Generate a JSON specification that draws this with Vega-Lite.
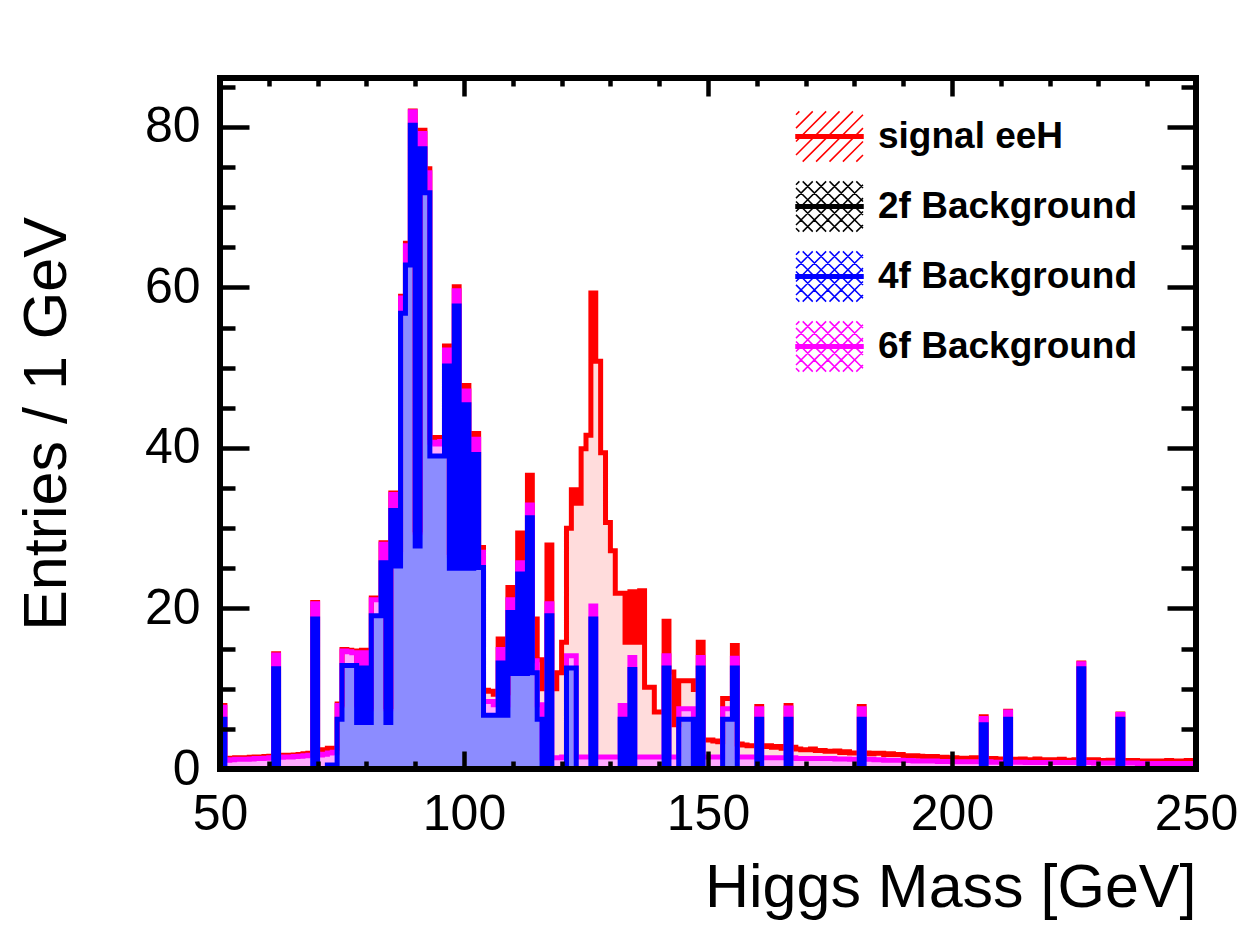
{
"$schema": "https://vega.github.io/schema/vega-lite/v6.json",
"width": 976, "height": 691,
"autosize": {"type": "none"},
"padding": {"left": 220, "top": 78, "right": 51, "bottom": 165},
"background": "white",
"config": {"view": {"stroke": null}, "axis": {"labelFont": "Liberation Sans", "titleFont": "Liberation Sans", "labelColor": "black", "titleColor": "black", "tickColor": "black", "titleFontWeight": "normal", "grid": false, "domain": false}},
"layer": [
{
"data": {"values": [
{"m":50.5,"f4":6.2,"f6":1.5,"sig":0.2},{"m":51.5,"f4":0,"f6":1.1,"sig":0.2},{"m":52.5,"f4":0,"f6":1.15,"sig":0.2},{"m":53.5,"f4":0,"f6":1.2,"sig":0.2},{"m":54.5,"f4":0,"f6":1.2,"sig":0.2},
{"m":55.5,"f4":0,"f6":1.2,"sig":0.2},{"m":56.5,"f4":0,"f6":1.25,"sig":0.2},{"m":57.5,"f4":0,"f6":1.3,"sig":0.2},{"m":58.5,"f4":0,"f6":1.3,"sig":0.2},{"m":59.5,"f4":0,"f6":1.35,"sig":0.2},
{"m":60.5,"f4":0,"f6":1.4,"sig":0.2},{"m":61.5,"f4":12.5,"f6":1.7,"sig":0.15},{"m":62.5,"f4":0,"f6":1.45,"sig":0.2},{"m":63.5,"f4":0,"f6":1.5,"sig":0.2},{"m":64.5,"f4":0,"f6":1.5,"sig":0.2},
{"m":65.5,"f4":0,"f6":1.55,"sig":0.2},{"m":66.5,"f4":0,"f6":1.6,"sig":0.2},{"m":67.5,"f4":0,"f6":1.65,"sig":0.25},{"m":68.5,"f4":0,"f6":1.7,"sig":0.25},{"m":69.5,"f4":18.7,"f6":1.9,"sig":0.15},
{"m":70.5,"f4":0,"f6":1.75,"sig":0.35},{"m":71.5,"f4":0,"f6":1.85,"sig":0.55},{"m":72.5,"f4":0.5,"f6":1.5,"sig":0.6},{"m":73.5,"f4":0.5,"f6":1.6,"sig":0.5},{"m":74.5,"f4":6.2,"f6":1.7,"sig":0.2},
{"m":75.5,"f4":12.9,"f6":1.8,"sig":0.2},{"m":76.5,"f4":12.9,"f6":1.7,"sig":0.2},{"m":77.5,"f4":12.9,"f6":1.6,"sig":0.2},{"m":78.5,"f4":5.8,"f6":2.2,"sig":0.2},{"m":79.5,"f4":12.6,"f6":1.9,"sig":0.3},
{"m":80.5,"f4":5.8,"f6":1.7,"sig":0.3},{"m":81.5,"f4":19.1,"f6":2.0,"sig":0.2},{"m":82.5,"f4":19.1,"f6":2.0,"sig":0.2},{"m":83.5,"f4":25.7,"f6":2.3,"sig":0.2},{"m":84.5,"f4":5.8,"f6":1.7,"sig":0.3},
{"m":85.5,"f4":32.2,"f6":2.0,"sig":0.2},{"m":86.5,"f4":25.3,"f6":1.7,"sig":0.3},{"m":87.5,"f4":56.8,"f6":1.9,"sig":0.2},{"m":88.5,"f4":62.8,"f6":2.4,"sig":0.3},{"m":89.5,"f4":80.2,"f6":1.7,"sig":0.1},
{"m":90.5,"f4":27.8,"f6":1.7,"sig":0.3},{"m":91.5,"f4":77.3,"f6":1.9,"sig":0.4},{"m":92.5,"f4":71.8,"f6":2.5,"sig":0.5},{"m":93.5,"f4":39.0,"f6":1.7,"sig":0.6},{"m":94.5,"f4":39.0,"f6":1.5,"sig":0.8},
{"m":95.5,"f4":39.0,"f6":1.8,"sig":0.5},{"m":96.5,"f4":50.2,"f6":2.0,"sig":0.5},{"m":97.5,"f4":25.0,"f6":1.6,"sig":0.4},{"m":98.5,"f4":57.7,"f6":1.9,"sig":0.5},{"m":99.5,"f4":25.0,"f6":1.6,"sig":0.4},
{"m":100.5,"f4":45.4,"f6":1.7,"sig":0.7},{"m":101.5,"f4":25.0,"f6":1.6,"sig":0.4},{"m":102.5,"f4":39.2,"f6":1.9,"sig":0.7},{"m":103.5,"f4":25.1,"f6":1.9,"sig":0.6},{"m":104.5,"f4":6.7,"f6":1.7,"sig":1.4},
{"m":105.5,"f4":6.7,"f6":1.7,"sig":1.3},{"m":106.5,"f4":6.7,"f6":1.3,"sig":1.3},{"m":107.5,"f4":13.2,"f6":1.7,"sig":1.3},{"m":108.5,"f4":6.7,"f6":1.3,"sig":1.5},{"m":109.5,"f4":19.5,"f6":1.6,"sig":1.5},
{"m":110.5,"f4":11.9,"f6":1.3,"sig":2.0},{"m":111.5,"f4":24.3,"f6":1.4,"sig":3.7},{"m":112.5,"f4":11.9,"f6":1.3,"sig":3.5},{"m":113.5,"f4":31.3,"f6":1.6,"sig":3.7},{"m":114.5,"f4":12.0,"f6":1.5,"sig":5.2},
{"m":115.5,"f4":6.2,"f6":1.8,"sig":5.6},{"m":116.5,"f4":0,"f6":1.4,"sig":8.6},{"m":117.5,"f4":19.1,"f6":1.5,"sig":7.3},{"m":118.5,"f4":0,"f6":1.4,"sig":8.6},{"m":119.5,"f4":0,"f6":1.4,"sig":10.6},
{"m":120.5,"f4":0,"f6":1.5,"sig":14.3},{"m":121.5,"f4":12.6,"f6":1.5,"sig":15.9},{"m":122.5,"f4":12.6,"f6":1.5,"sig":20.7},{"m":123.5,"f4":0,"f6":1.5,"sig":31.6},{"m":124.5,"f4":0,"f6":1.5,"sig":38.4},
{"m":125.5,"f4":0,"f6":1.5,"sig":40.1},{"m":126.5,"f4":18.7,"f6":1.6,"sig":39.0},{"m":127.5,"f4":0,"f6":1.5,"sig":49.3},{"m":128.5,"f4":0,"f6":1.5,"sig":37.9},{"m":129.5,"f4":0,"f6":1.5,"sig":29.2},
{"m":130.5,"f4":0,"f6":1.5,"sig":25.7},{"m":131.5,"f4":0,"f6":1.5,"sig":20.4},{"m":132.5,"f4":6.2,"f6":1.7,"sig":14.0},{"m":133.5,"f4":0,"f6":1.5,"sig":14.3},{"m":134.5,"f4":12.4,"f6":1.5,"sig":8.2},
{"m":135.5,"f4":0,"f6":1.5,"sig":14.3},{"m":136.5,"f4":0,"f6":1.5,"sig":20.7},{"m":137.5,"f4":0,"f6":1.5,"sig":8.7},{"m":138.5,"f4":0,"f6":1.5,"sig":8.7},{"m":139.5,"f4":0,"f6":1.5,"sig":5.6},
{"m":140.5,"f4":0,"f6":1.5,"sig":5.6},{"m":141.5,"f4":12.6,"f6":1.5,"sig":4.3},{"m":142.5,"f4":0,"f6":1.5,"sig":10.6},{"m":143.5,"f4":0,"f6":1.5,"sig":4.0},{"m":144.5,"f4":6.2,"f6":1.3,"sig":3.5},
{"m":145.5,"f4":6.2,"f6":1.3,"sig":3.5},{"m":146.5,"f4":6.2,"f6":1.3,"sig":3.5},{"m":147.5,"f4":0,"f6":1.5,"sig":8.4},{"m":148.5,"f4":12.6,"f6":1.3,"sig":1.9},{"m":149.5,"f4":0,"f6":1.5,"sig":2.1},
{"m":150.5,"f4":0,"f6":1.5,"sig":2.1},{"m":151.5,"f4":0,"f6":1.5,"sig":2.0},{"m":152.5,"f4":0,"f6":1.5,"sig":1.9},{"m":153.5,"f4":6.2,"f6":1.3,"sig":1.3},{"m":154.5,"f4":6.2,"f6":1.3,"sig":1.3},
{"m":155.5,"f4":12.6,"f6":1.2,"sig":1.6},{"m":156.5,"f4":0,"f6":1.5,"sig":1.6},{"m":157.5,"f4":0,"f6":1.5,"sig":1.5},{"m":158.5,"f4":0,"f6":1.5,"sig":1.4},{"m":159.5,"f4":0,"f6":1.5,"sig":1.4},
{"m":160.5,"f4":6.2,"f6":1.3,"sig":0.3},{"m":161.5,"f4":0,"f6":1.4,"sig":1.4},{"m":162.5,"f4":0,"f6":1.4,"sig":1.5},{"m":163.5,"f4":0,"f6":1.4,"sig":1.3},{"m":164.5,"f4":0,"f6":1.4,"sig":1.4},
{"m":165.5,"f4":0,"f6":1.4,"sig":1.2},{"m":166.5,"f4":6.2,"f6":1.4,"sig":0.3},{"m":167.5,"f4":0,"f6":1.4,"sig":1.3},{"m":168.5,"f4":0,"f6":1.3,"sig":1.2},{"m":169.5,"f4":0,"f6":1.3,"sig":1.1},
{"m":170.5,"f4":0,"f6":1.3,"sig":1.1},{"m":171.5,"f4":0,"f6":1.3,"sig":1.2},{"m":172.5,"f4":0,"f6":1.3,"sig":1.0},{"m":173.5,"f4":0,"f6":1.3,"sig":1.0},{"m":174.5,"f4":0,"f6":1.3,"sig":0.9},
{"m":175.5,"f4":0,"f6":1.3,"sig":0.9},{"m":176.5,"f4":0,"f6":1.25,"sig":1.0},{"m":177.5,"f4":0,"f6":1.25,"sig":0.8},{"m":178.5,"f4":0,"f6":1.25,"sig":0.9},{"m":179.5,"f4":0,"f6":1.2,"sig":0.8},
{"m":180.5,"f4":0,"f6":1.2,"sig":0.8},{"m":181.5,"f4":6.2,"f6":1.3,"sig":0.3},{"m":182.5,"f4":0,"f6":1.2,"sig":0.8},{"m":183.5,"f4":0,"f6":1.2,"sig":0.7},{"m":184.5,"f4":0,"f6":1.15,"sig":0.8},
{"m":185.5,"f4":0,"f6":1.15,"sig":0.8},{"m":186.5,"f4":0,"f6":1.1,"sig":0.7},{"m":187.5,"f4":0,"f6":1.1,"sig":0.8},{"m":188.5,"f4":0,"f6":1.1,"sig":0.7},{"m":189.5,"f4":0,"f6":1.1,"sig":0.7},
{"m":190.5,"f4":0,"f6":1.05,"sig":0.6},{"m":191.5,"f4":0,"f6":1.05,"sig":0.6},{"m":192.5,"f4":0,"f6":1.0,"sig":0.65},{"m":193.5,"f4":0,"f6":1.0,"sig":0.6},{"m":194.5,"f4":0,"f6":1.0,"sig":0.55},
{"m":195.5,"f4":0,"f6":1.0,"sig":0.5},{"m":196.5,"f4":0,"f6":1.0,"sig":0.55},{"m":197.5,"f4":0,"f6":0.95,"sig":0.5},{"m":198.5,"f4":0,"f6":0.95,"sig":0.5},{"m":199.5,"f4":0,"f6":0.95,"sig":0.45},
{"m":200.5,"f4":0,"f6":0.9,"sig":0.5},{"m":201.5,"f4":0,"f6":0.9,"sig":0.45},{"m":202.5,"f4":0,"f6":0.9,"sig":0.4},{"m":203.5,"f4":0,"f6":0.9,"sig":0.45},{"m":204.5,"f4":0,"f6":0.9,"sig":0.5},
{"m":205.5,"f4":0,"f6":0.9,"sig":0.4},{"m":206.5,"f4":5.5,"f6":0.8,"sig":0.2},{"m":207.5,"f4":0,"f6":0.9,"sig":0.4},{"m":208.5,"f4":0,"f6":0.85,"sig":0.45},{"m":209.5,"f4":0,"f6":0.85,"sig":0.35},
{"m":210.5,"f4":0,"f6":0.85,"sig":0.4},{"m":211.5,"f4":6.2,"f6":0.9,"sig":0.1},{"m":212.5,"f4":0,"f6":0.85,"sig":0.35},{"m":213.5,"f4":0,"f6":0.85,"sig":0.3},{"m":214.5,"f4":0,"f6":0.85,"sig":0.4},
{"m":215.5,"f4":0,"f6":0.8,"sig":0.35},{"m":216.5,"f4":0,"f6":0.8,"sig":0.35},{"m":217.5,"f4":0,"f6":0.8,"sig":0.45},{"m":218.5,"f4":0,"f6":0.8,"sig":0.35},{"m":219.5,"f4":0,"f6":0.8,"sig":0.3},
{"m":220.5,"f4":0,"f6":0.8,"sig":0.35},{"m":221.5,"f4":0,"f6":0.8,"sig":0.3},{"m":222.5,"f4":0,"f6":0.8,"sig":0.4},{"m":223.5,"f4":0,"f6":0.8,"sig":0.3},{"m":224.5,"f4":0,"f6":0.8,"sig":0.3},
{"m":225.5,"f4":0,"f6":0.8,"sig":0.35},{"m":226.5,"f4":12.5,"f6":0.6,"sig":0.1},{"m":227.5,"f4":0,"f6":0.8,"sig":0.35},{"m":228.5,"f4":0,"f6":0.8,"sig":0.3},{"m":229.5,"f4":0,"f6":0.75,"sig":0.4},
{"m":230.5,"f4":0,"f6":0.75,"sig":0.3},{"m":231.5,"f4":0,"f6":0.75,"sig":0.3},{"m":232.5,"f4":0,"f6":0.75,"sig":0.35},{"m":233.5,"f4":0,"f6":0.75,"sig":0.3},{"m":234.5,"f4":6.2,"f6":0.6,"sig":0.05},
{"m":235.5,"f4":0,"f6":0.75,"sig":0.3},{"m":236.5,"f4":0,"f6":0.75,"sig":0.25},{"m":237.5,"f4":0,"f6":0.75,"sig":0.3},{"m":238.5,"f4":0,"f6":0.7,"sig":0.3},{"m":239.5,"f4":0,"f6":0.7,"sig":0.25},
{"m":240.5,"f4":0,"f6":0.7,"sig":0.3},{"m":241.5,"f4":0,"f6":0.7,"sig":0.3},{"m":242.5,"f4":0,"f6":0.7,"sig":0.25},{"m":243.5,"f4":0,"f6":0.7,"sig":0.3},{"m":244.5,"f4":0,"f6":0.7,"sig":0.35},
{"m":245.5,"f4":0,"f6":0.7,"sig":0.3},{"m":246.5,"f4":0,"f6":0.7,"sig":0.25},{"m":247.5,"f4":0,"f6":0.7,"sig":0.3},{"m":248.5,"f4":0,"f6":0.7,"sig":0.35},{"m":249.5,"f4":0,"f6":0.7,"sig":0.3}
]},
"transform": [
  {"fold": ["f4", "f6", "sig"], "as": ["process", "entries"]},
  {"stack": "entries", "groupby": ["m"], "sort": [{"field": "process", "order": "ascending"}], "as": ["lo", "hi"]}
],
"encoding": {
  "x": {"field": "m", "type": "quantitative", "scale": {"domain": [50, 250], "nice": false, "zero": false},
    "axis": {"orient": "bottom", "values": [50,60,70,80,90,100,110,120,130,140,150,160,170,180,190,200,210,220,230,240,250],
      "tickSize": {"condition": {"test": "datum.value % 50 === 0", "value": -18}, "value": -8},
      "tickWidth": 4.5, "labelExpr": "datum.value % 50 === 0 ? datum.label : ''",
      "labelFontSize": 50, "labelPadding": 38, "labelFlush": false, "labelOverlap": false, "labelBound": false,
      "title": "Higgs Mass [GeV]", "titleFontSize": 61, "titleAnchor": "end", "titlePadding": 9, "zindex": 1}},
  "y": {"field": "hi", "type": "quantitative", "stack": null, "scale": {"domain": [0, 86.1], "nice": false, "zero": true},
    "axis": {"orient": "left", "values": [0,5,10,15,20,25,30,35,40,45,50,55,60,65,70,75,80,85],
      "tickSize": {"condition": {"test": "datum.value % 20 === 0", "value": -29}, "value": -15},
      "tickWidth": 4.5, "labelExpr": "datum.value % 20 === 0 ? datum.label : ''",
      "labelFontSize": 50, "labelPadding": 49, "labelFlush": false, "labelOverlap": false, "labelBound": false,
      "title": "Entries / 1 GeV", "titleFontSize": 61, "titlePadding": 66, "zindex": 1}}
},
"layer": [
  {"transform": [{"filter": "datum.process === 'sig'"}], "mark": {"type": "area", "interpolate": "step", "color": "#ffdcdc"}},
  {"transform": [{"filter": "datum.process === 'f6'"}], "mark": {"type": "area", "interpolate": "step", "color": "#ffaaff"}},
  {"transform": [{"filter": "datum.process === 'f4'"}], "mark": {"type": "area", "interpolate": "step", "color": "#8c8cff"}},
  {"transform": [{"filter": "datum.process === 'sig'"}], "mark": {"type": "line", "interpolate": "step", "strokeWidth": 5, "strokeJoin": "miter", "strokeCap": "butt"},
   "encoding": {"color": {"field": "process", "type": "nominal",
     "scale": {"domain": ["sig", "f2", "f4", "f6"], "range": ["#ff0000", "#000000", "#0000ff", "#ff00ff"]},
     "legend": {"orient": "none", "legendX": 575, "legendY": 24, "title": null, "padding": 0, "rowPadding": 7,
       "labelFont": "Liberation Sans", "labelFontWeight": "bold", "labelFontSize": 37, "labelColor": "black", "labelOffset": 14, "labelLimit": 0,
       "symbolSize": 4489, "symbolStrokeWidth": 1.5,
       "labelExpr": "{'sig': 'signal eeH', 'f2': '2f Background', 'f4': '4f Background', 'f6': '6f Background'}[datum.value]",
       "encode": {"symbols": {"update": {
         "shape": {"signal": "datum.value === 'sig' ? 'M-1,-0.05H1V0.05H-1Z M-1,-0.65L-0.9,-0.75 M-1,-0.25L-0.5,-0.75 M-1,0.15L-0.1,-0.75 M-1,0.55L0.3,-0.75 M-0.8,0.75L0.7,-0.75 M-0.4,0.75L1,-0.65 M0,0.75L1,-0.25 M0.4,0.75L1,0.15 M0.8,0.75L1,0.55' : 'M-1,-0.05H1V0.05H-1Z M-1,-0.65L-0.9,-0.75 M-1,-0.25L-0.5,-0.75 M-1,0.15L-0.1,-0.75 M-1,0.55L0.3,-0.75 M-0.8,0.75L0.7,-0.75 M-0.4,0.75L1,-0.65 M0,0.75L1,-0.25 M0.4,0.75L1,0.15 M0.8,0.75L1,0.55 M-1,0.65L-0.9,0.75 M-1,0.25L-0.5,0.75 M-1,-0.15L-0.1,0.75 M-1,-0.55L0.3,0.75 M-0.8,-0.75L0.7,0.75 M-0.4,-0.75L1,0.65 M0,-0.75L1,0.25 M0.4,-0.75L1,-0.15 M0.8,-0.75L1,-0.55'"},
         "fill": {"scale": "color", "field": "value"},
         "stroke": {"scale": "color", "field": "value"},
         "strokeWidth": {"value": 1.5}, "opacity": {"value": 1}, "fillOpacity": {"value": 1}, "strokeOpacity": {"value": 1}}}}}}}},
  {"transform": [{"filter": "datum.process === 'f6'"}], "mark": {"type": "line", "interpolate": "step", "strokeWidth": 5, "strokeJoin": "miter", "strokeCap": "butt"},
   "encoding": {"color": {"field": "process", "type": "nominal", "scale": {"domain": ["sig", "f2", "f4", "f6"], "range": ["#ff0000", "#000000", "#0000ff", "#ff00ff"]}}}},
  {"transform": [{"filter": "datum.process === 'f4'"}], "mark": {"type": "line", "interpolate": "step", "strokeWidth": 5, "strokeJoin": "miter", "strokeCap": "butt"},
   "encoding": {"color": {"field": "process", "type": "nominal", "scale": {"domain": ["sig", "f2", "f4", "f6"], "range": ["#ff0000", "#000000", "#0000ff", "#ff00ff"]}}}}
]
},
{
"data": {"values": [{}]},
"mark": {"type": "rect", "filled": false, "color": "black", "strokeWidth": 6},
"encoding": {
  "x": {"datum": 50, "type": "quantitative", "scale": {"domain": [50, 250], "nice": false, "zero": false},
    "axis": {"orient": "top", "values": [50,60,70,80,90,100,110,120,130,140,150,160,170,180,190,200,210,220,230,240,250],
      "tickSize": {"condition": {"test": "datum.value % 50 === 0", "value": -18}, "value": -8},
      "tickWidth": 4.5, "labels": false, "title": null, "zindex": 1}},
  "x2": {"datum": 250},
  "y": {"datum": 0, "type": "quantitative", "scale": {"domain": [0, 86.1], "nice": false, "zero": true},
    "axis": {"orient": "right", "values": [0,5,10,15,20,25,30,35,40,45,50,55,60,65,70,75,80,85],
      "tickSize": {"condition": {"test": "datum.value % 20 === 0", "value": -29}, "value": -15},
      "tickWidth": 4.5, "labels": false, "title": null, "zindex": 1}},
  "y2": {"datum": 86.1}
}
}
],
"resolve": {"axis": {"x": "independent", "y": "independent"}}
}
